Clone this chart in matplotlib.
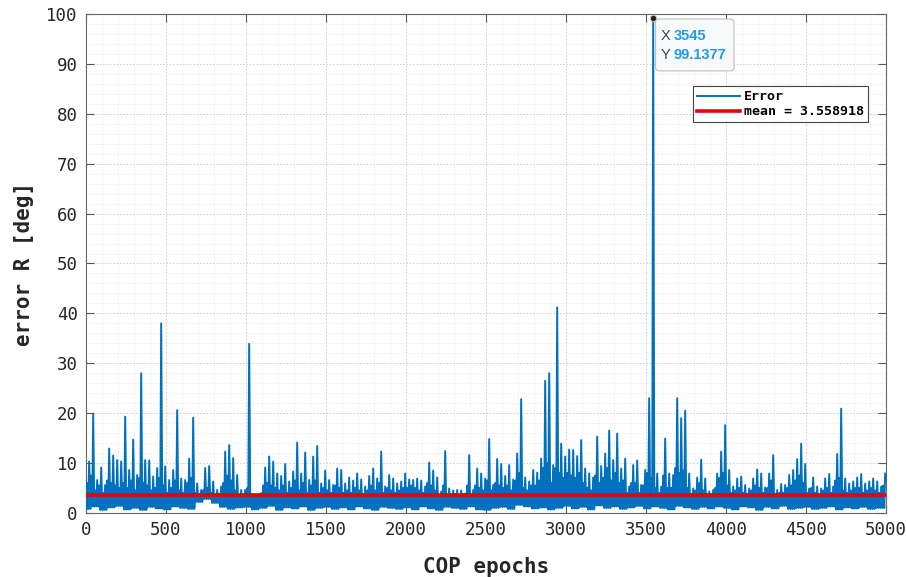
import numpy as np
import matplotlib
matplotlib.use("Agg")
import matplotlib.pyplot as plt
from matplotlib.ticker import MultipleLocator
from matplotlib.patches import FancyBboxPatch

# upper value reached inside every 25-epoch block
err_hi = [
    10.3, 19.7, 6.6, 9.1, 5.6, 12.9, 11.5, 10.6, 10.3, 19.3,
    8.6, 14.7, 7.6, 28.0, 10.6, 10.5, 7.3, 9.0, 38.0, 9.3,
    6.6, 8.6, 20.6, 6.9, 6.6, 10.9, 19.1, 5.9, 4.6, 9.0,
    9.4, 6.3, 4.6, 5.3, 12.3, 13.6, 11.0, 7.6, 4.6, 4.6,
    33.9, 3.8, 3.6, 4.0, 9.1, 11.3, 10.3, 7.9, 7.4, 9.8,
    6.3, 8.3, 14.1, 7.9, 12.1, 6.6, 11.3, 13.4, 5.9, 8.5,
    6.6, 5.6, 8.9, 8.6, 5.9, 7.1, 6.5, 7.9, 6.7, 5.3,
    7.4, 8.9, 6.9, 12.3, 5.3, 7.6, 6.9, 5.9, 6.3, 7.9,
    6.7, 6.6, 6.9, 6.5, 5.3, 10.1, 8.5, 7.1, 4.3, 12.4,
    4.9, 4.5, 4.6, 4.5, 3.9, 11.6, 4.6, 8.9, 7.9, 6.9,
    14.8, 5.6, 10.8, 9.8, 7.4, 9.6, 6.7, 11.9, 22.8, 7.1,
    6.3, 8.6, 8.1, 10.9, 26.5, 28.0, 9.6, 41.2, 13.9, 11.3,
    12.7, 12.6, 11.4, 14.6, 8.9, 7.9, 7.1, 15.3, 9.4, 11.9,
    16.5, 10.6, 15.9, 8.9, 10.9, 5.3, 9.6, 10.5, 5.6, 8.6,
    23.0, 99.1377, 7.9, 5.3, 14.9, 7.9, 7.6, 23.0, 19.0, 20.5,
    7.9, 4.9, 7.1, 10.7, 6.9, 4.3, 4.6, 7.9, 12.3, 17.6,
    8.6, 5.3, 6.9, 7.3, 5.6, 4.9, 6.9, 8.7, 7.9, 5.1,
    7.9, 11.6, 4.6, 5.8, 5.6, 7.6, 8.6, 10.8, 13.9, 9.8,
    4.9, 7.1, 5.3, 4.9, 6.9, 7.8, 5.3, 11.8, 20.9, 6.9,
    5.9, 6.3, 7.1, 7.8, 5.9, 6.3, 6.9, 6.3, 5.3, 7.9,
]

# top of the solid part of the band, per 25-epoch block
err_mid = [
    6.0, 7.5, 4.5, 5.5, 4.0, 6.5, 6.0, 5.5, 5.0, 6.0,
    5.0, 6.5, 4.5, 7.0, 6.0, 5.5, 4.5, 5.0, 7.0, 5.5,
    4.0, 5.0, 6.5, 4.5, 4.0, 6.0, 7.0, 4.0, 3.8, 4.5,
    5.0, 4.0, 3.5, 3.8, 6.0, 7.5, 6.5, 4.5, 3.5, 3.8,
    5.0, 3.6, 3.4, 3.5, 5.5, 6.0, 5.5, 5.0, 4.5, 5.5,
    4.0, 5.0, 6.5, 4.5, 6.0, 4.0, 5.5, 6.5, 4.0, 5.0,
    4.5, 4.0, 5.5, 5.0, 4.0, 4.5, 4.0, 5.0, 4.5, 3.8,
    4.5, 5.5, 4.5, 6.0, 4.0, 5.0, 4.5, 4.0, 4.5, 5.0,
    5.0, 5.5, 5.0, 4.5, 4.0, 6.0, 5.5, 4.5, 3.5, 5.5,
    3.8, 3.6, 3.8, 3.6, 3.4, 5.5, 3.8, 5.5, 5.0, 4.5,
    6.5, 4.5, 6.0, 5.5, 5.0, 5.5, 4.5, 6.5, 8.0, 5.0,
    4.5, 5.5, 5.5, 6.5, 9.0, 10.0, 6.0, 9.0, 8.0, 7.0,
    8.0, 7.5, 7.0, 8.0, 6.0, 5.0, 4.5, 7.5, 6.0, 7.0,
    9.0, 6.5, 8.0, 6.0, 6.5, 4.0, 6.0, 6.0, 4.0, 5.5,
    8.0, 7.0, 5.0, 4.0, 7.5, 5.0, 5.0, 9.0, 8.0, 8.5,
    5.0, 3.8, 4.5, 6.0, 4.5, 3.6, 3.8, 5.0, 7.0, 8.0,
    5.5, 4.0, 4.5, 5.0, 4.0, 3.8, 4.5, 5.5, 5.0, 4.0,
    5.0, 6.5, 3.8, 4.0, 4.0, 5.0, 5.5, 6.5, 7.5, 6.0,
    4.0, 5.0, 4.0, 3.8, 4.5, 5.0, 4.0, 6.5, 7.0, 4.5,
    4.0, 4.5, 5.0, 5.0, 4.0, 4.5, 5.0, 4.5, 4.0, 5.5,
]

# lower edge of the band, per 50-epoch block
err_lo = [
    0.8, 1.3, 0.6, 1.1, 1.4, 0.7, 1.0, 0.6, 1.2, 0.9,
    0.7, 1.3, 1.0, 0.8, 2.2, 2.8, 2.0, 1.2, 0.8, 1.1,
    1.2, 0.7, 1.0, 1.4, 0.6, 1.1, 0.9, 1.3, 0.6, 1.0,
    1.2, 0.8, 1.1, 0.7, 1.3, 0.9, 0.6, 1.2, 1.0, 0.8,
    1.1, 0.7, 1.3, 0.9, 0.6, 1.2, 1.0, 0.8, 1.3, 0.7,
    0.6, 1.0, 1.2, 0.8, 1.6, 1.3, 0.9, 1.1, 0.7, 1.0,
    1.4, 0.9, 1.2, 0.7, 1.5, 1.0, 1.3, 0.8, 1.1, 1.4,
    0.9, 1.3, 1.0, 0.7, 1.4, 1.1, 0.8, 1.2, 0.9, 1.3,
    1.0, 0.7, 1.3, 1.1, 0.6, 1.2, 0.9, 1.4, 0.8, 1.0,
    1.2, 0.8, 1.0, 1.3, 0.7, 1.1, 0.9, 1.2, 0.8, 1.0,
]

peak_x = 3545
peak_y = 99.1377
mean_err = 3.558918

# trace: bottom, solid top, bottom, block top
xs, ys = [], []
for i, h in enumerate(err_hi):
    lo_a = err_lo[i // 2]
    lo_b = err_lo[min((i + 1) // 2, len(err_lo) - 1)]
    xs += [25 * i + 2, 25 * i + 8, 25 * i + 14, 25 * i + 20]
    ys += [lo_a, err_mid[i], lo_b, h]
xs, ys = np.array(xs), np.array(ys)

mono = ['DejaVu Sans Mono']
blue = '#0072BD'
tipblue = '#1e9be9'

fig = plt.figure(figsize=(9.06, 5.77), dpi=100)
ax = fig.add_axes([0.0949, 0.111, 0.8830, 0.8647])

ax.plot(xs, ys, color=blue, lw=1.4, label='Error', zorder=3)
ax.axhline(mean_err, color='#e8000b', lw=2.6, label=f'mean = {mean_err:.6f}', zorder=4)
ax.plot([peak_x], [peak_y], 'o', ms=4.5, mfc='#222222', mec='#c8c8a0', mew=0.6, zorder=6,
        clip_on=False)

ax.set_xlim(0, 5000)
ax.set_ylim(0, 100)
ax.xaxis.set_major_locator(MultipleLocator(500))
ax.yaxis.set_major_locator(MultipleLocator(10))
ax.xaxis.set_minor_locator(MultipleLocator(100))
ax.yaxis.set_minor_locator(MultipleLocator(2))
ax.grid(which='major', color='#c8c8c8', ls=(0, (2, 2)), lw=0.6)
ax.grid(which='minor', color='#dcdcdc', ls=(0, (1, 2)), lw=0.5)
ax.set_axisbelow(True)

ax.tick_params(which='major', direction='in', length=5.8, width=0.8, top=True, right=True,
               colors='#555555', labelcolor='#262626', labelsize=12.5, pad=6)
ax.tick_params(which='minor', length=0)
for lab in ax.get_xticklabels() + ax.get_yticklabels():
    lab.set_family(mono)
for sp in ax.spines.values():
    sp.set_color('#666666')
    sp.set_linewidth(0.8)

ax.set_xlabel('COP epochs', family=mono, fontsize=15, fontweight='bold', color='#262626',
              labelpad=13)
ax.set_ylabel('error R [deg]', family=mono, fontsize=15, fontweight='bold', color='#262626',
              labelpad=9)

leg = ax.legend(loc='upper right', bbox_to_anchor=(0.9775, 0.855), prop={'family': mono,
                'weight': 'bold', 'size': 9.5}, fancybox=False, framealpha=1,
                edgecolor='#444444', handlelength=3.3, handletextpad=0.3, borderpad=0.3,
                labelspacing=0.15, borderaxespad=0)
leg.get_frame().set_linewidth(0.8)
leg.set_zorder(7)

# data tip box
ax.add_patch(FancyBboxPatch((3560, 88.6), 490, 10.4, boxstyle='round,pad=0,rounding_size=19',
                            mutation_aspect=0.032, fc='#f8f9fa', ec='#c0c0c0', lw=0.8,
                            zorder=8, clip_on=False))
tipfont = ['Liberation Sans', 'DejaVu Sans']
ax.text(3590, 95.6, 'X', family=tipfont, fontsize=10.5, color='#444444', va='center',
        ha='left', zorder=9)
ax.text(3590, 91.8, 'Y', family=tipfont, fontsize=10.5, color='#444444', va='center',
        ha='left', zorder=9)
ax.text(3675, 95.6, '3545', family=tipfont, fontsize=10.5, fontweight='bold', color=tipblue,
        va='center', ha='left', zorder=9)
ax.text(3675, 91.8, '99.1377', family=tipfont, fontsize=10.5, fontweight='bold',
        color=tipblue, va='center', ha='left', zorder=9)

fig.savefig('out.png', dpi=100)
